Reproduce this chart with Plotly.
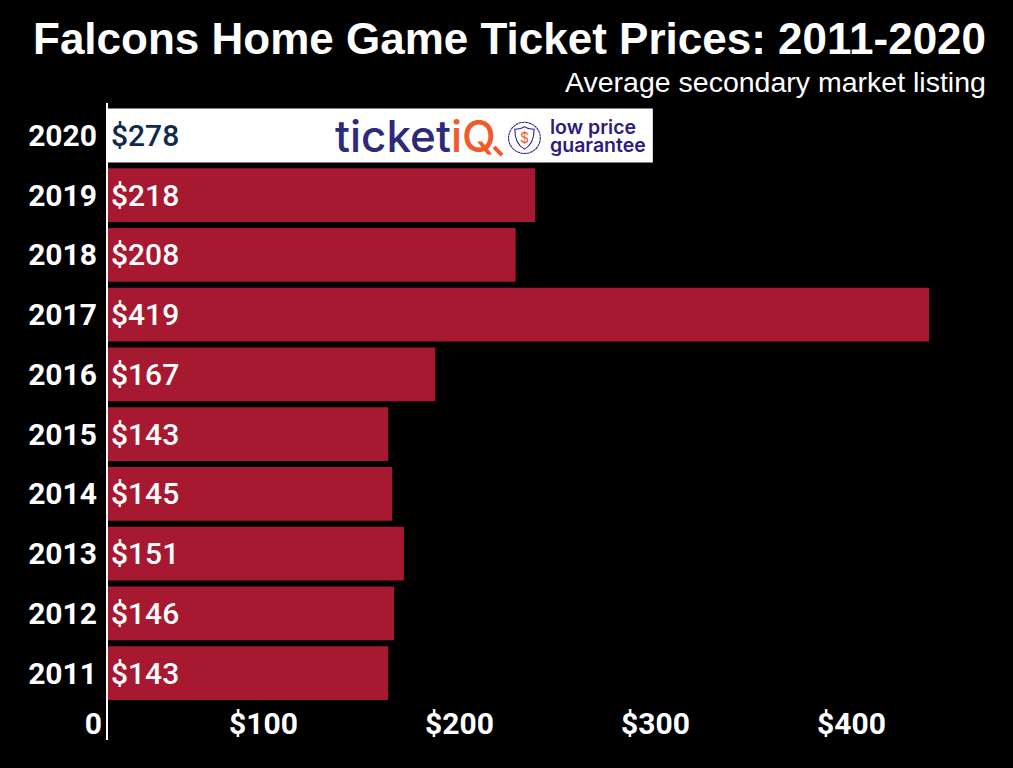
import base64
import plotly.graph_objects as go

years = ["2011", "2012", "2013", "2014", "2015", "2016", "2017", "2018", "2019", "2020"]
prices = [143, 146, 151, 145, 143, 167, 419, 208, 218, 278]
labels = ["$143", "$146", "$151", "$145", "$143", "$167", "$419", "$208", "$218", "$278"]
bar_colors = ["#a71930"] * 9 + ["#ffffff"]
label_colors = ["#ffffff"] * 9 + ["#0f2a4a"]
tick_vals = [0, 100, 200, 300, 400]
tick_text = ["0", "$100", "$200", "$300", "$400"]

# shield badge in the ticketiQ logo
badge_svg = """<svg xmlns="http://www.w3.org/2000/svg" viewBox="0 0 40 40">
<circle cx="20" cy="20" r="18" fill="none" stroke="#2e1a80" stroke-width="1.2" stroke-dasharray="3.2 0.5"/>
<path d="M20 7 C24 10 28 10 31 10 C31 20 29 28 20 33 C11 28 9 20 9 10 C12 10 16 10 20 7Z" fill="none" stroke="#2e1a80" stroke-width="1.2"/>
</svg>"""
badge_src = "data:image/svg+xml;base64," + base64.b64encode(badge_svg.encode()).decode()

fig = go.Figure(
    go.Bar(
        x=prices,
        y=years,
        orientation="h",
        marker=dict(color=bar_colors, line=dict(width=0)),
        text=labels,
        textposition="inside",
        insidetextanchor="start",
        textangle=0,
        constraintext="none",
        textfont=dict(family="Roboto", size=30, color=label_colors, weight=500),
        width=0.9,
    )
)

fig.update_layout(
    width=1013,
    height=768,
    paper_bgcolor="#000000",
    plot_bgcolor="#000000",
    margin=dict(l=108, r=27, t=103, b=28, autoexpand=False),
    showlegend=False,
    xaxis=dict(
        range=[0, 448],
        tickvals=tick_vals,
        ticktext=tick_text,
        ticklabelposition="inside left",
        ticklabeloverflow="allow",
        ticklabelstandoff=-6,
        ticklabelshift=-6,
        showgrid=False,
        zeroline=False,
        ticks="",
        tickfont=dict(family="Roboto", size=30, color="#ffffff", weight=700),
    ),
    yaxis=dict(
        type="category",
        range=[-1.12, 9.544],
        showgrid=False,
        showline=True,
        linecolor="#ffffff",
        linewidth=2,
        ticks="",
        ticklabelstandoff=3,
        tickfont=dict(family="Roboto", size=30, color="#ffffff", weight=700),
    ),
    annotations=[
        dict(text="<b>Falcons Home Game Ticket Prices: 2011-2020</b>", xref="paper", yref="paper",
             x=1.0, xshift=2, y=1.102, xanchor="right", yanchor="middle", showarrow=False,
             font=dict(family="Liberation Sans", size=44, color="#ffffff")),
        dict(text="Average secondary market listing", xref="paper", yref="paper",
             x=1.0, xshift=2, y=1.033, xanchor="right", yanchor="middle", showarrow=False,
             font=dict(family="Liberation Sans", size=28.5, color="#ffffff")),
        # logo text on the 2020 bar, y is the category index
        dict(text="ticket<span style='color:#f15a29'>iQ</span>", xref="x", yref="y", x=157, y=9,
             showarrow=False, font=dict(family="Inter", size=44, color="#2e2a7a", weight=500)),
        dict(text="$", xref="x", yref="y", x=212.5, y=8.96, showarrow=False,
             font=dict(family="Inter", size=14, color="#f15a29")),
        dict(text="low price", xref="x", yref="y", x=224.5, y=9.14, xanchor="left", showarrow=False,
             font=dict(family="Inter", size=19.5, color="#2e1a80", weight=600)),
        dict(text="guarantee", xref="x", yref="y", x=224.5, y=8.84, xanchor="left", showarrow=False,
             font=dict(family="Inter", size=19.5, color="#2e1a80", weight=600)),
    ],
    images=[
        dict(source=badge_src, xref="x", yref="y", x=212.5, y=8.96, sizex=18, sizey=0.58,
             xanchor="center", yanchor="middle", sizing="stretch", layer="above"),
    ],
    shapes=[
        # handle of the Q in the logo
        dict(type="line", xref="x", yref="y", x0=197, x1=201, y0=8.81, y1=8.67,
             line=dict(color="#f15a29", width=4)),
    ],
)

fig.write_html(
    "out.html",
    config={"displayModeBar": False},
    post_script="document.body.style.margin='0';document.body.style.overflow='hidden';",
)
